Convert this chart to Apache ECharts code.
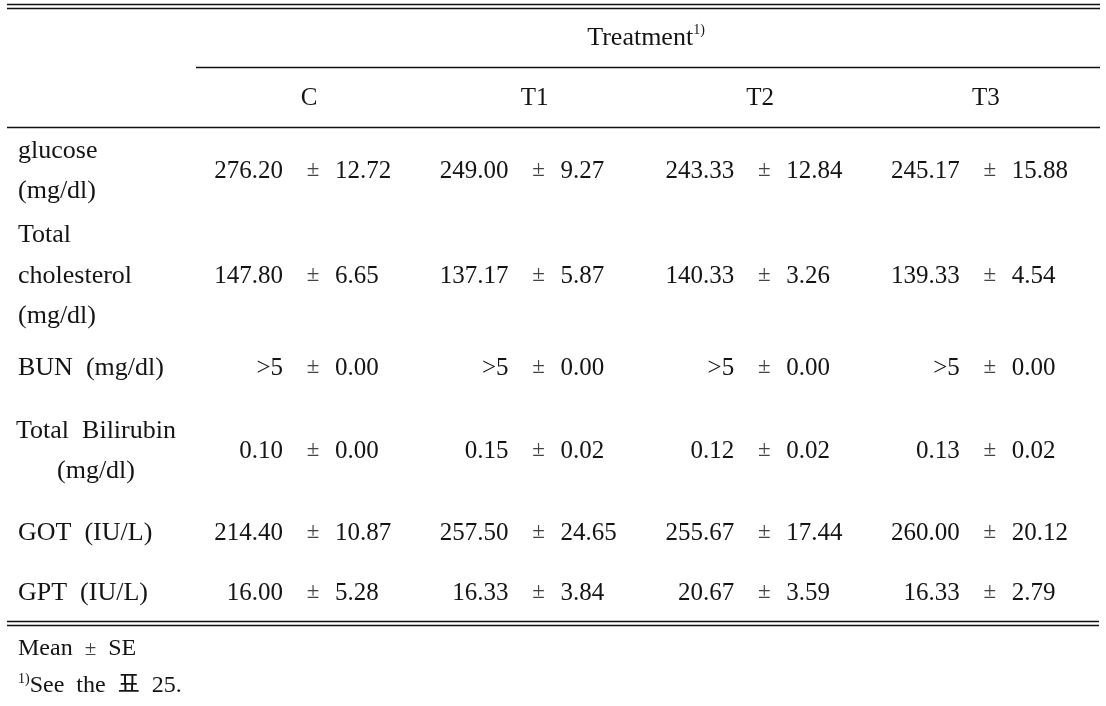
<!DOCTYPE html>
<html><head><meta charset="utf-8">
<script src="https://cdn.jsdelivr.net/npm/echarts@6/dist/echarts.min.js"></script>
<style>html,body{margin:0;padding:0;background:#fff}#c{width:1106px;height:706px}</style>
</head><body><div id="c"></div>
<script>
// ---------- data ----------
const treatments = ['C', 'T1', 'T2', 'T3'];
const rowLabels = [['glucose', '(mg/dl)'], ['Total', 'cholesterol', '(mg/dl)'], ['BUN  (mg/dl)'], ['Total  Bilirubin', '(mg/dl)'], ['GOT  (IU/L)'], ['GPT  (IU/L)']];
const meanC  = ['276.20', '147.80', '>5', '0.10', '214.40', '16.00'];
const seC    = ['12.72', '6.65', '0.00', '0.00', '10.87', '5.28'];
const meanT1 = ['249.00', '137.17', '>5', '0.15', '257.50', '16.33'];
const seT1   = ['9.27', '5.87', '0.00', '0.02', '24.65', '3.84'];
const meanT2 = ['243.33', '140.33', '>5', '0.12', '255.67', '20.67'];
const seT2   = ['12.84', '3.26', '0.00', '0.02', '17.44', '3.59'];
const meanT3 = ['245.17', '139.33', '>5', '0.13', '260.00', '16.33'];
const seT3   = ['15.88', '4.54', '0.00', '0.02', '20.12', '2.79'];
const headerTitle = 'Treatment';
const noteMark = '1)';
const footSee = 'See  the  \ud45c  25.';

// ---------- layout / style ----------
const L = {
  rowY: [171, 276, 368, 451, 533, 593],
  rowAlign: ['left', 'left', 'left', 'center', 'left', 'left'],
  labelX: 18, labelCenterX: 96, lineGap: 40.5,
  meanRight: 283, pmX: 313, seLeft: 335, colStep: 225.6,
  headX: 309, headY: 98,
  titleX: 646, titleY: 38,
  rules: [[7, 1100, 4.5], [7, 1100, 8.5], [196, 1100, 67.5], [7, 1100, 127.5], [7, 1099, 621.5], [7, 1099, 625.5]],
  footX: 18, footY: [649, 686]
};
const FONT = '"Liberation Serif", "Noto Sans CJK KR", serif';
const FS = 25;
const FS_LABEL = 26;
const INK = '#141414';
const PM = { fontSize: 23, fill: '#444' };

const meansAll = [meanC, meanT1, meanT2, meanT3];
const sesAll = [seC, seT1, seT2, seT3];

function txt(p, text, align, extra) {
  return {
    type: 'text', x: p[0], y: p[1],
    style: Object.assign({ text: text, fill: INK, fontFamily: FONT, fontSize: FS, align: align, verticalAlign: 'middle' }, extra || {})
  };
}

const cellData = [];
for (let k = 0; k < treatments.length; k++) for (let r = 0; r < rowLabels.length; r++) cellData.push([k, r]);

const chart = echarts.init(document.getElementById('c'), null, { renderer: 'canvas' });
chart.setOption({
  animation: false,
  backgroundColor: '#fff',
  grid: { left: 0, right: 0, top: 0, bottom: 0 },
  xAxis: { type: 'value', min: 0, max: 1106, show: false },
  yAxis: { type: 'value', min: 0, max: 706, inverse: true, show: false },
  series: [
    { // rules
      type: 'custom', clip: false, silent: true,
      data: L.rules.map((r, i) => [i]),
      renderItem: function (params, api) {
        const r = L.rules[api.value(0)];
        const a = api.coord([r[0], r[2]]), b = api.coord([r[1], r[2]]);
        return { type: 'line', shape: { x1: a[0], y1: a[1], x2: b[0], y2: b[1] }, style: { stroke: '#111', lineWidth: 1.4 } };
      }
    },
    { // header
      type: 'custom', clip: false, silent: true,
      data: [[0]],
      renderItem: function (params, api) {
        const children = [];
        const t = api.coord([L.titleX, L.titleY]);
        children.push({
          type: 'text', x: t[0], y: t[1],
          style: {
            text: '{t|' + headerTitle + '}{s|' + noteMark + '}', align: 'center', verticalAlign: 'middle',
            rich: {
              t: { fontFamily: FONT, fontSize: 26, fill: INK, lineHeight: 30 },
              s: { fontFamily: FONT, fontSize: 14, fill: INK, lineHeight: 14, verticalAlign: 'top' }
            }
          }
        });
        treatments.forEach(function (name, k) {
          children.push(txt(api.coord([L.headX + k * L.colStep, L.headY]), name, 'center'));
        });
        return { type: 'group', children: children };
      }
    },
    { // row labels
      type: 'custom', clip: false, silent: true,
      data: rowLabels.map((r, i) => [i]),
      renderItem: function (params, api) {
        const r = api.value(0);
        const lines = rowLabels[r];
        const align = L.rowAlign[r];
        const x = align === 'center' ? L.labelCenterX : L.labelX;
        const children = lines.map(function (s, i) {
          const y = L.rowY[r] - (lines.length - 1) / 2 * L.lineGap + i * L.lineGap;
          return txt(api.coord([x, y]), s, align, { fontSize: FS_LABEL });
        });
        return { type: 'group', children: children };
      }
    },
    { // value cells
      type: 'custom', clip: false, silent: true,
      data: cellData,
      renderItem: function (params, api) {
        const k = api.value(0), r = api.value(1);
        const y = L.rowY[r];
        const off = k * L.colStep;
        return {
          type: 'group', children: [
            txt(api.coord([L.meanRight + off, y]), meansAll[k][r], 'right'),
            txt(api.coord([L.pmX + off, y - 1]), '\u00b1', 'center', PM),
            txt(api.coord([L.seLeft + off, y]), sesAll[k][r], 'left')
          ]
        };
      }
    },
    { // footnotes
      type: 'custom', clip: false, silent: true,
      data: [[0]],
      renderItem: function (params, api) {
        const a = api.coord([L.footX, L.footY[0]]);
        const b = api.coord([L.footX, L.footY[1]]);
        return {
          type: 'group', children: [
            {
              type: 'text', x: a[0], y: a[1],
              style: {
                text: '{t|Mean  }{p|\u00b1}{t|  SE}', align: 'left', verticalAlign: 'middle',
                rich: {
                  t: { fontFamily: FONT, fontSize: 24, fill: INK, lineHeight: 28 },
                  p: { fontFamily: FONT, fontSize: 21, fill: '#444', lineHeight: 28 }
                }
              }
            },
            {
              type: 'text', x: b[0], y: b[1],
              style: {
                text: '{s|' + noteMark + '}{t|' + footSee + '}', align: 'left', verticalAlign: 'middle',
                rich: {
                  t: { fontFamily: FONT, fontSize: 24, fill: INK, lineHeight: 28 },
                  s: { fontFamily: FONT, fontSize: 14, fill: INK, lineHeight: 14, verticalAlign: 'top' }
                }
              }
            }
          ]
        };
      }
    }
  ]
});
</script>
</body></html>
